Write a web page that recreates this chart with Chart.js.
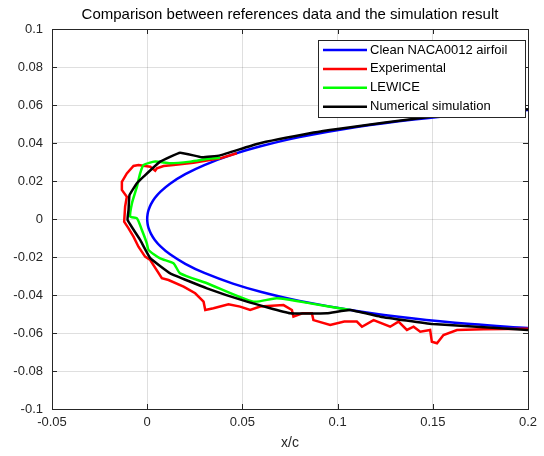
<!DOCTYPE html>
<html>
<head>
<meta charset="utf-8">
<script src="https://cdn.jsdelivr.net/npm/chart.js@4/dist/chart.umd.min.js"></script>
<style>
    html, body { margin: 0; padding: 0; background: #fff; }
    #wrap { width: 544px; height: 456px; }
</style>
</head>
<body>
<div id="wrap"><canvas id="airfoilChart"></canvas></div>
<script>
// Airfoil ice shape comparison (x/c vs y/c)

const cleanX = [0.2, 0.17, 0.14, 0.11, 0.08, 0.06, 0.045, 0.03, 0.02, 0.012, 0.007, 0.004, 0.002, 0.0007, 0.0002, 0,
    0.0002, 0.0007, 0.002, 0.004, 0.007, 0.012, 0.02, 0.03, 0.045, 0.06, 0.08, 0.11, 0.14, 0.17, 0.2];
const cleanY = [0.0574, 0.0553, 0.0524, 0.0484, 0.0431, 0.0384, 0.034, 0.0284, 0.0236, 0.0186, 0.0144, 0.011, 0.0078, 0.0047, 0.0025, 0,
    -0.0025, -0.0047, -0.0078, -0.011, -0.0144, -0.0186, -0.0236, -0.0284, -0.034, -0.0384, -0.0431, -0.0484, -0.0524, -0.0553, -0.0574];

const expX = [0.0471, 0.0383, 0.0243, 0.0138, 0.0086, 0.0051, 0.0042, 0.0016, -0.0046, -0.0072, -0.0107, -0.0133, -0.0133,
    -0.0107, -0.0116, -0.0121, -0.0098, -0.0072, -0.0046, -0.0011, 0.0016, 0.0077, 0.0112, 0.0191, 0.0252, 0.0296, 0.0305,
    0.0348, 0.0427, 0.0488, 0.0541, 0.0593, 0.0716, 0.076, 0.0768, 0.0815, 0.0865, 0.0873, 0.0961, 0.1035, 0.1101, 0.1128,
    0.1189, 0.1276, 0.132, 0.1364, 0.1399, 0.1434, 0.1486, 0.1495, 0.1522, 0.1556, 0.1627, 0.1766, 0.2];
const expY = [0.0346, 0.0319, 0.0296, 0.0284, 0.0279, 0.0267, 0.0254, 0.0275, 0.0284, 0.0279, 0.024, 0.0196, 0.0153,
    0.0117, 0.0065, -0.0014, -0.0049, -0.0093, -0.0146, -0.0198, -0.0216, -0.0312, -0.0321, -0.0356, -0.0391, -0.0435, -0.0479,
    -0.047, -0.0449, -0.0461, -0.0479, -0.0461, -0.0453, -0.0479, -0.0514, -0.0496, -0.0496, -0.0532, -0.0558, -0.054, -0.054, -0.0567,
    -0.0532, -0.0567, -0.054, -0.0584, -0.0567, -0.0593, -0.0584, -0.0646, -0.0654, -0.0611, -0.0584, -0.058, -0.0578];

const lewiceX = [0.0383, 0.0331, 0.0226, 0.0121, 0.0042, -0.0019, -0.0037, -0.0054, -0.008, -0.0089, -0.0054, -0.0028,
    -0.0002, 0.0007, 0.0068, 0.0138, 0.0173, 0.0314, 0.0558, 0.0681, 0.0856, 0.1066];
const lewiceY = [0.0322, 0.0319, 0.0302, 0.0293, 0.0302, 0.0284, 0.024, 0.017, 0.0083, 0.0012, 0.0004, -0.0058,
    -0.0128, -0.0163, -0.0207, -0.0233, -0.0286, -0.0338, -0.0435, -0.0417, -0.0444, -0.0479];

const numX = [0.2, 0.15, 0.1, 0.0874, 0.0576, 0.0383, 0.0287, 0.0173, 0.0068, -0.0019, -0.0054, -0.0093, -0.0098, -0.0103,
    -0.0037, 0.0016, 0.0121, 0.0314, 0.0524, 0.0751, 0.0944, 0.1066, 0.1224, 0.15, 0.2];
const numY = [0.0578, 0.054, 0.0474, 0.0455, 0.0395, 0.0335, 0.0325, 0.0349, 0.0302, 0.0223, 0.0188, 0.0126, 0.0047, -0.0005,
    -0.011, -0.0206, -0.0286, -0.0365, -0.0435, -0.0496, -0.0496, -0.0479, -0.0514, -0.0553, -0.0584];

const xTicks = [-0.05, 0, 0.05, 0.1, 0.15, 0.2];
const yTicks = [-0.1, -0.08, -0.06, -0.04, -0.02, 0, 0.02, 0.04, 0.06, 0.08, 0.1];

const seriesLabels = ['Clean NACA0012 airfoil', 'Experimental', 'LEWICE', 'Numerical simulation'];
const seriesColors = ['#0000ff', '#ff0000', '#00ff00', '#000000'];

function toPoints(xs, ys) {
    return xs.map((x, i) => ({ x: x, y: ys[i] }));
}

const FONT = '"Liberation Sans", Arial, Helvetica, sans-serif';
const AXIS_COLOR = '#262626';

// MATLAB-like box, inward ticks and legend
const matlabAxes = {
    id: 'matlabAxes',
    afterDraw(chart) {
        const { ctx, chartArea: a, scales } = chart;
        ctx.save();
        ctx.strokeStyle = AXIS_COLOR;
        ctx.lineWidth = 1;
        ctx.beginPath();
        xTicks.forEach(v => {
            const px = Math.round(scales.x.getPixelForValue(v)) + 0.5;
            ctx.moveTo(px, a.bottom); ctx.lineTo(px, a.bottom - 5);
            ctx.moveTo(px, a.top); ctx.lineTo(px, a.top + 5);
        });
        yTicks.forEach(v => {
            const py = Math.round(scales.y.getPixelForValue(v)) + 0.5;
            ctx.moveTo(a.left, py); ctx.lineTo(a.left + 5, py);
            ctx.moveTo(a.right, py); ctx.lineTo(a.right - 5, py);
        });
        ctx.stroke();
        ctx.strokeRect(Math.round(a.left) + 0.5, Math.round(a.top) + 0.5,
            Math.round(a.right - a.left), Math.round(a.bottom - a.top));

        // legend box
        const lx = 318, ly = 40, lw = 207, lh = 77;
        ctx.fillStyle = '#fff';
        ctx.fillRect(lx, ly, lw, lh);
        ctx.strokeRect(lx + 0.5, ly + 0.5, lw, lh);
        ctx.font = '13px ' + FONT;
        ctx.textBaseline = 'middle';
        ctx.textAlign = 'left';
        chart.data.datasets.forEach((ds, i) => {
            const y = ly + 10 + i * 18.9;
            ctx.strokeStyle = ds.borderColor;
            ctx.lineWidth = 2.5;
            ctx.beginPath();
            ctx.moveTo(lx + 5, y);
            ctx.lineTo(lx + 49, y);
            ctx.stroke();
            ctx.fillStyle = '#000';
            ctx.fillText(ds.label, lx + 52, y);
        });
        ctx.restore();
    }
};

function lineSet(i, xs, ys, order, tension) {
    return {
        label: seriesLabels[i],
        data: toPoints(xs, ys),
        borderColor: seriesColors[i],
        backgroundColor: seriesColors[i],
        borderWidth: 2.5,
        pointRadius: 0,
        showLine: true,
        tension: tension,
        order: order
    };
}

new Chart(document.getElementById('airfoilChart'), {
    type: 'scatter',
    data: {
        datasets: [
            lineSet(0, cleanX, cleanY, 4, 0.4),
            lineSet(1, expX, expY, 3, 0),
            lineSet(2, lewiceX, lewiceY, 2, 0.2),
            lineSet(3, numX, numY, 1, 0.1)
        ]
    },
    options: {
        responsive: true,
        maintainAspectRatio: false,
        animation: false,
        layout: { padding: { left: 0, right: 16, top: 0, bottom: 0 } },
        plugins: {
            legend: { display: false },
            tooltip: { enabled: false },
            title: {
                display: true,
                fullSize: false,
                text: 'Comparison between references data and the simulation result',
                color: '#000',
                font: { family: FONT, size: 15, weight: 'normal' },
                padding: { top: 6, bottom: 5 }
            }
        },
        scales: {
            x: {
                type: 'linear',
                min: -0.05,
                max: 0.2,
                afterFit: s => { s.height = 47; },
                afterBuildTicks: s => { s.ticks = xTicks.map(v => ({ value: v })); },
                grid: { color: 'rgba(38,38,38,0.15)', drawTicks: false },
                border: { display: false },
                ticks: {
                    color: AXIS_COLOR,
                    font: { family: FONT, size: 13 },
                    padding: 6,
                    maxRotation: 0,
                    callback: v => String(parseFloat(v.toFixed(2)))
                },
                title: {
                    display: true,
                    text: 'x/c',
                    color: AXIS_COLOR,
                    font: { family: FONT, size: 14 },
                    padding: { top: 4, bottom: 4.6 }
                }
            },
            y: {
                type: 'linear',
                min: -0.1,
                max: 0.1,
                afterFit: s => { s.width = 52; },
                afterBuildTicks: s => { s.ticks = yTicks.map(v => ({ value: v })); },
                grid: { color: 'rgba(38,38,38,0.15)', drawTicks: false },
                border: { display: false },
                ticks: {
                    color: AXIS_COLOR,
                    font: { family: FONT, size: 13 },
                    padding: 9,
                    callback: v => String(parseFloat(v.toFixed(2)))
                }
            }
        }
    },
    plugins: [matlabAxes]
});
</script>
</body>
</html>
